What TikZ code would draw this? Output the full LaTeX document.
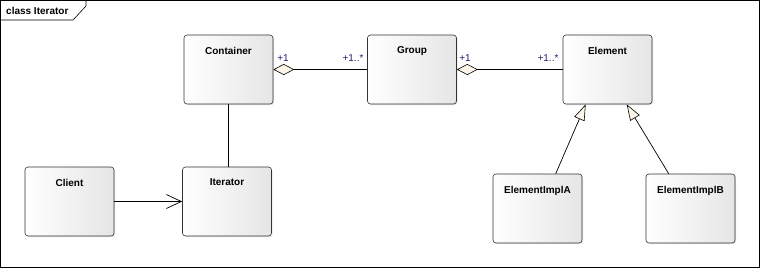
\documentclass[tikz,border=0pt]{standalone}
\usepackage{fontspec}
\setmainfont{Liberation Sans}
\usetikzlibrary{arrows.meta,positioning,shadows}
\definecolor{tipfill}{RGB}{253,245,232}
\definecolor{rolecol}{RGB}{30,30,110}

\begin{document}
\begin{tikzpicture}[
  x=1pt, y=-1pt,
  font=\fontsize{10}{12}\selectfont,
  cls/.style={draw=black!80, line width=0.6pt, rounded corners=3pt,
              left color=white, right color=black!10,
              drop shadow={shadow xshift=1.2pt, shadow yshift=-1.2pt, fill=black!20},
              minimum width=89pt, minimum height=69pt, inner sep=0pt,
              label={[anchor=north, yshift=-12pt, inner sep=0pt, font=\fontsize{10}{12}\selectfont\bfseries]north:#1}},
  role/.style={font=\fontsize{10}{12}\selectfont, text=rolecol, inner sep=0pt},
  link/.style={draw=black, line width=0.7pt},
  agg/.style={link, {Diamond[length=21pt, width=11pt, fill=tipfill, line width=0.6pt]}-},
  gen/.style={link, -{Triangle[open, length=16pt, width=11pt, fill=tipfill, line width=0.6pt]}},
  nav/.style={link, -{Straight Barb[length=15pt, width=14pt, line width=0.7pt]}}
]
\useasboundingbox (0,0) rectangle (760,269);
% frame
\draw[line width=0.6pt] (0.5,0.5) rectangle (759,267.5);
\draw[line width=0.6pt] (0.5,20) -- (73,20) -- (86,6) -- (86,0.5);
\node[anchor=west, font=\fontsize{10}{12}\selectfont\bfseries, inner sep=0pt] (frametitle) at (6,11) {class Iterator};

% classes
\node[cls=Container] (container) at (228.5,69.5) {};
\node[cls=Group] (group) at (412,69.5) {};
\node[cls=Element] (element) at (607.5,69.5) {};
\node[cls=Client] (client) at (69.5,201.5) {};
\node[cls=Iterator] (iterator) at (227,201.5) {};
\node[cls=ElementImplA] (impla) at (537.5,208.5) {};
\node[cls=ElementImplB] (implb) at (690.5,208.5) {};

% connectors
\draw[agg] (container.east) -- (group.west);
\draw[agg] (group.east) -- (element.west);
\draw[link] (container.south) -- (container.south |- iterator.north);
\draw[nav] (client.east) -- (iterator.west);
\draw[gen] ([xshift=63pt]impla.north west) -- ([xshift=23pt]element.south west);
\draw[gen] ([xshift=23pt]implb.north west) -- ([xshift=64pt]element.south west);

% role labels
\node[role] (r1) at (283,58) {+1};
\node[role] (r2) at (353,58) {+1..*};
\node[role] (r3) at (465,58) {+1};
\node[role] (r4) at (548,58) {+1..*};
\end{tikzpicture}
\end{document}
